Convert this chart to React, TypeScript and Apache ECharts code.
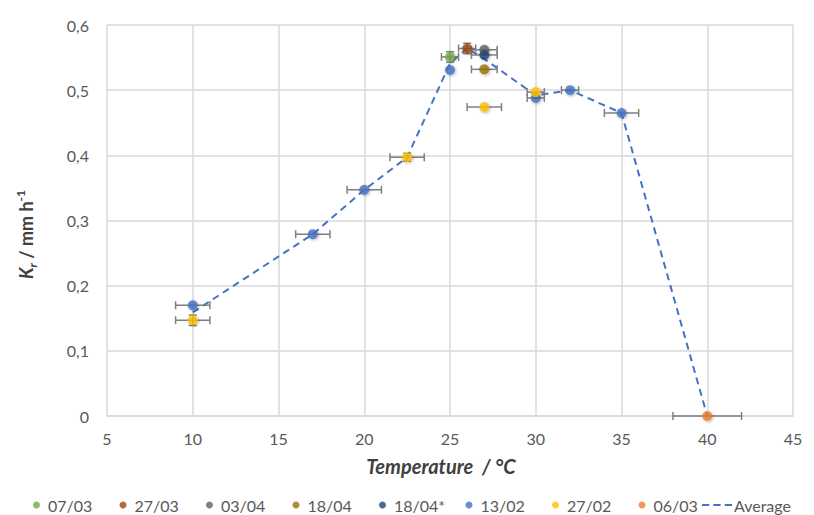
import React, { useEffect, useRef } from "react";
import * as echarts from "echarts";

const xTicks = { min: 5, max: 45, interval: 5 };
const yTicks = { min: 0, max: 0.6, interval: 0.1 };

const names = ["07/03", "27/03", "03/04", "18/04", "18/04*", "13/02", "27/02", "06/03"];
const colors = ["#70AD47", "#9E480E", "#636363", "#997300", "#264478", "#4472C4", "#FFC000", "#ED7D31"];

// per dataset: temperature, Kr, x-error, y-error
const x0703 = [25];
const y0703 = [0.551];
const xe0703 = [0.5];
const ye0703 = [0.008];

const x2703 = [26];
const y2703 = [0.564];
const xe2703 = [0.5];
const ye2703 = [0.008];

const x0304 = [27];
const y0304 = [0.562];
const xe0304 = [0.75];
const ye0304 = [0];

const x1804 = [27];
const y1804 = [0.532];
const xe1804 = [0.75];
const ye1804 = [0];

const x1804s = [27];
const y1804s = [0.554];
const xe1804s = [0.75];
const ye1804s = [0];

const x1302 = [10, 17, 20, 25, 30, 32, 35];
const y1302 = [0.170, 0.279, 0.347, 0.531, 0.488, 0.500, 0.465];
const xe1302 = [1, 1, 1, 0, 0.5, 0.5, 1];
const ye1302 = [0, 0, 0, 0, 0, 0, 0];

const x2702 = [10, 22.5, 27, 30];
const y2702 = [0.147, 0.397, 0.474, 0.497];
const xe2702 = [1, 1, 1, 0.5];
const ye2702 = [0.008, 0.006, 0, 0];

const x0603 = [40];
const y0603 = [0];
const xe0603 = [2];
const ye0603 = [0];

const avgX = [10, 17, 20, 22.5, 25, 26, 27, 30, 32, 35, 40];
const avgY = [0.159, 0.279, 0.347, 0.397, 0.541, 0.564, 0.548, 0.492, 0.5, 0.465, 0];

const sets = [
  [x0703, y0703, xe0703, ye0703],
  [x2703, y2703, xe2703, ye2703],
  [x0304, y0304, xe0304, ye0304],
  [x1804, y1804, xe1804, ye1804],
  [x1804s, y1804s, xe1804s, ye1804s],
  [x1302, y1302, xe1302, ye1302],
  [x2702, y2702, xe2702, ye2702],
  [x0603, y0603, xe0603, ye0603],
];

const FONT = "Lato";
const TXT = "#595959";
const TITLE = "#404040";

export default function App() {
  const ref = useRef<HTMLDivElement>(null);
  useEffect(() => {
    document.body.style.margin = "0";
    const chart = echarts.init(ref.current!, undefined, { renderer: "svg" });

    const errData: number[][] = [];
    sets.forEach(([xs, ys, xe, ye]) => {
      xs.forEach((x, i) => errData.push([x, ys[i], xe[i], ye[i]]));
    });

    const capH = 4;
    const errSeries = {
      type: "custom",
      name: "err",
      z: 2,
      silent: true,
      data: errData,
      renderItem: (params: any, api: any) => {
        const x = api.value(0);
        const y = api.value(1);
        const xe = api.value(2);
        const ye = api.value(3);
        const children: any[] = [];
        const st = { stroke: "#7F7F7F", lineWidth: 1.5 };
        if (xe > 0) {
          const a = api.coord([x - xe, y]);
          const b = api.coord([x + xe, y]);
          children.push({ type: "line", shape: { x1: a[0], y1: a[1], x2: b[0], y2: b[1] }, style: st });
          children.push({ type: "line", shape: { x1: a[0], y1: a[1] - capH, x2: a[0], y2: a[1] + capH }, style: st });
          children.push({ type: "line", shape: { x1: b[0], y1: b[1] - capH, x2: b[0], y2: b[1] + capH }, style: st });
        }
        if (ye > 0) {
          const a = api.coord([x, y - ye]);
          const b = api.coord([x, y + ye]);
          children.push({ type: "line", shape: { x1: a[0], y1: a[1], x2: b[0], y2: b[1] }, style: st });
          children.push({ type: "line", shape: { x1: a[0] - capH, y1: a[1], x2: a[0] + capH, y2: a[1] }, style: st });
          children.push({ type: "line", shape: { x1: b[0] - capH, y1: b[1], x2: b[0] + capH, y2: b[1] }, style: st });
        }
        return { type: "group", children };
      },
    };

    const scatterSeries = sets.map(([xs, ys], k) => ({
      type: "scatter",
      name: names[k],
      symbol: "circle",
      symbolSize: 10,
      z: 3,
      itemStyle: {
        color: colors[k],
        shadowBlur: 3,
        shadowColor: "rgba(0,0,0,0.35)",
        shadowOffsetX: 1,
        shadowOffsetY: 1,
      },
      data: xs.map((x, i) => [x, ys[i]]),
    }));

    const avgSeries = {
      type: "line",
      name: "Average",
      z: 1,
      symbol: "none",
      showSymbol: false,
      lineStyle: { color: "#4472C4", width: 2, type: [7, 5] },
      itemStyle: { color: "#4472C4" },
      data: avgX.map((x, i) => [x, avgY[i]]),
    };

    const legendBase = {
      top: 497,
      padding: 0,
      itemWidth: 7,
      itemHeight: 7,
      itemGap: 0,
      textStyle: { color: TXT, fontSize: 16, fontFamily: FONT, padding: [0, 0, 0, 3] },
      selectedMode: false,
    };
    const legends: any[] = names.map((n, i) => ({
      ...legendBase,
      left: 33 + i * 86.5,
      icon: "circle",
      data: [n],
    }));
    legends.push({
      ...legendBase,
      left: 702,
      itemWidth: 30,
      itemHeight: 3,
      textStyle: { ...legendBase.textStyle, padding: [0, 0, 0, -3] },
      data: [
        {
          name: "Average",
          icon: "path://M0 0h7v2h-7z M11 0h7v2h-7z M22 0h7v2h-7z",
          itemStyle: { color: "#4472C4" },
        },
      ],
    });

    chart.setOption({
      animation: false,
      backgroundColor: "#ffffff",
      grid: { left: 107, right: 21, top: 25, bottom: 99 },
      legend: legends,
      xAxis: {
        type: "value",
        min: xTicks.min,
        max: xTicks.max,
        interval: xTicks.interval,
        axisLine: { show: true, lineStyle: { color: "#D9D9D9", width: 1.5 } },
        axisTick: { show: false },
        splitLine: { show: true, lineStyle: { color: "#D9D9D9", width: 1.5 } },
        axisLabel: { color: TXT, fontSize: 16, fontFamily: FONT, margin: 14 },
        name: "{i|Temperature  / °C}",
        nameLocation: "middle",
        nameGap: 40,
        nameTextStyle: {
          padding: [0, 18, 0, 0],
          rich: {
            i: { fontSize: 20, fontWeight: "bold", fontStyle: "italic", color: TITLE, fontFamily: FONT },
          },
        },
      },
      yAxis: {
        type: "value",
        min: yTicks.min,
        max: yTicks.max,
        interval: yTicks.interval,
        axisLine: { show: false },
        axisTick: { show: false },
        splitLine: { show: true, lineStyle: { color: "#D9D9D9", width: 1.5 } },
        axisLabel: {
          color: TXT,
          fontSize: 16,
          fontFamily: FONT,
          margin: 18,
          formatter: (v: number) => (Math.round(v * 10) / 10).toString().replace(".", ","),
        },
        name: "{k|K}{sub|r}{b| / mm h}{sup|-1}",
        nameLocation: "middle",
        nameRotate: 90,
        nameGap: 69,
        nameTextStyle: {
          padding: [0, 28, 0, 0],
          rich: {
            k: { fontSize: 18, fontWeight: "bold", fontStyle: "italic", color: TITLE, fontFamily: FONT, lineHeight: 24 },
            sub: { fontSize: 12, fontWeight: "bold", fontStyle: "italic", color: TITLE, fontFamily: FONT, verticalAlign: "bottom", lineHeight: 24 },
            b: { fontSize: 18, fontWeight: "bold", color: TITLE, fontFamily: FONT, lineHeight: 24 },
            sup: { fontSize: 12, fontWeight: "bold", color: TITLE, fontFamily: FONT, verticalAlign: "top", lineHeight: 24 },
          },
        },
      },
      series: [avgSeries, errSeries, ...scatterSeries],
    } as any);

    return () => chart.dispose();
  }, []);

  return <div ref={ref} style={{ width: 814, height: 515 }} />;
}
